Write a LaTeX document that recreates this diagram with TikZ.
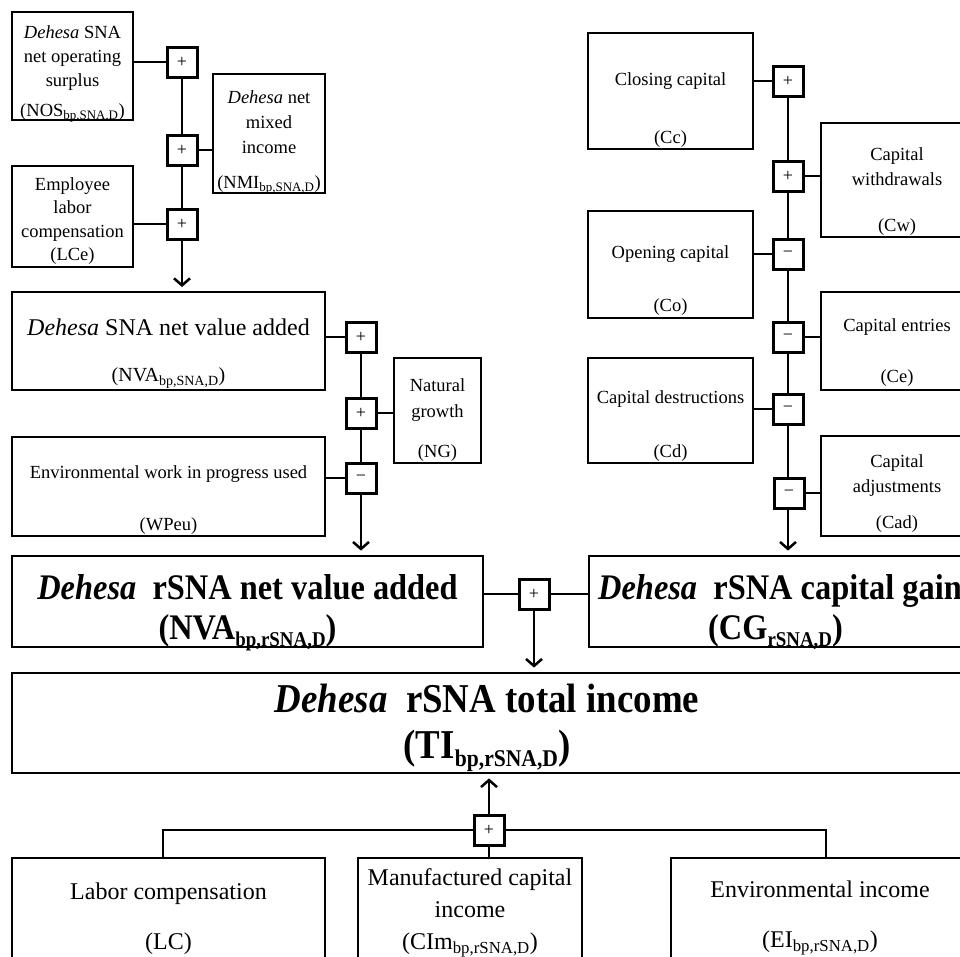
\documentclass[tikz,border=0pt]{standalone}
\usepackage{fontspec}
\setmainfont{Liberation Serif}
\newfontfamily\condfont[FakeStretch=0.9]{Liberation Serif}
\usetikzlibrary{arrows.meta}

\newcommand{\fs}[2]{\fontsize{#1}{#2}\selectfont}
\newcommand{\sbs}[1]{\textsubscript{#1}}
% lowered subscript with an explicit size, for the large bold titles
\newcommand{\bsbs}[2]{\raisebox{-0.2em}{\fontsize{#1}{#1}\selectfont #2}}

\begin{document}
\begin{tikzpicture}[x=1pt,y=-1pt,
  box/.style={draw, line width=2pt, rectangle, inner sep=0pt},
  bigbox/.style={draw, line width=2.8pt, rectangle, inner sep=0pt},
  opbox/.style={draw, fill=white, line width=3pt, minimum width=30pt, minimum height=30pt, inner sep=0pt, font=\fs{18}{20}},
  link/.style={line width=2.5pt},
  flow/.style={line width=2.5pt, -{Straight Barb[length=7pt,width=16pt]}, shorten >=4pt},
  lbl/.style={align=center, inner sep=0pt, font=\fs{18.5}{24}},
  midlbl/.style={align=center, inner sep=0pt, font=\fs{24}{32}},
  biglbl/.style={anchor=base, inner sep=0pt, font=\condfont\bfseries\fs{36}{40}},
  hugelbl/.style={anchor=base, inner sep=0pt, font=\condfont\bfseries\fs{41}{45}}
]
\useasboundingbox (0,0) rectangle (960,956);
\clip (0,0) rectangle (960,956);

% ---------- SNA net value added (upper left) ----------
\node[box, minimum width=121pt, minimum height=108pt] (nos) at (72.5,66) {};
\node[box, minimum width=112pt, minimum height=119pt] (nmi) at (269,133.5) {};
\node[box, minimum width=121pt, minimum height=101pt] (lce) at (72.5,216.5) {};
\node[lbl] (nosT) at (72.5,74) {\textit{Dehesa} SNA\\net operating\\surplus\\[6pt](NOS\sbs{bp,SNA,D})};
\node[lbl, font=\fs{18.5}{25}] (nmiT) at (269,142.5) {\textit{Dehesa} net\\mixed\\income\\[10pt](NMI\sbs{bp,SNA,D})};
\node[lbl, font=\fs{18.5}{23.5}] (lceT) at (72.5,221) {Employee\\labor\\compensation\\(LCe)};

\node[opbox] (p1) at (182,62) {+};
\node[opbox] (p2) at (182,150) {+};
\node[opbox] (p3) at (182,224) {+};

% ---------- rSNA net value added inputs ----------
\node[box, minimum width=313pt, minimum height=98pt] (nva) at (168.5,341) {};
\node[box, minimum width=87pt, minimum height=105pt] (ng) at (437.5,410.5) {};
\node[box, minimum width=313pt, minimum height=99pt] (wpeu) at (168.5,486.5) {};
\node[midlbl] (nvaT) at (168.5,327) {\textit{Dehesa} SNA net value added};
\node[lbl, font=\fs{20}{24}] (nvaS) at (168.5,378) {(NVA\sbs{bp,SNA,D})};
\node[lbl, font=\fs{18.5}{26}] (ngT) at (437.5,420) {Natural\\growth\\[14pt](NG)};
\node[lbl] (wpeuT) at (168.5,500) {Environmental work in progress used\\[28pt](WPeu)};

\node[opbox] (q1) at (361,337) {+};
\node[opbox] (q2) at (361,413) {+};
\node[opbox] (q3) at (361,478) {−};

% ---------- capital gain inputs (upper right) ----------
\node[box, minimum width=165pt, minimum height=116pt] (cc) at (670.5,91) {};
\node[box, minimum width=152pt, minimum height=114pt] (cw) at (897,180) {};
\node[box, minimum width=165pt, minimum height=107pt] (co) at (670.5,264.5) {};
\node[box, minimum width=152pt, minimum height=98pt] (ce) at (897,341) {};
\node[box, minimum width=165pt, minimum height=105pt] (cd) at (670.5,410.5) {};
\node[box, minimum width=152pt, minimum height=100pt] (cad) at (897,486) {};
\node[lbl] (ccT) at (670.5,110) {Closing capital\\[34pt](Cc)};
\node[lbl, font=\fs{18.5}{25}] (cwT) at (897,192) {Capital\\withdrawals\\[21pt](Cw)};
\node[lbl] (coT) at (670.5,280.5) {Opening capital\\[29pt](Co)};
\node[lbl] (ceT) at (897,352.5) {Capital entries\\[27pt](Ce)};
\node[lbl] (cdT) at (670.5,426) {Capital destructions\\[30pt](Cd)};
\node[lbl, font=\fs{18.5}{25}] (cadT) at (897,493.5) {Capital\\adjustments\\[11pt](Cad)};

\node[opbox] (c1) at (788,81) {+};
\node[opbox] (c2) at (788,176) {+};
\node[opbox] (c3) at (788,254) {−};
\node[opbox] (c4) at (788,337) {−};
\node[opbox] (c5) at (788,409) {−};
\node[opbox] (c6) at (789,493) {−};

% ---------- rSNA aggregates ----------
\node[bigbox, minimum width=471pt, minimum height=91pt] (rnva) at (247.5,601.5) {};
\node[bigbox, minimum width=373pt, minimum height=91pt] (cg) at (775.5,601.5) {};
\node[bigbox, minimum width=950pt, minimum height=100pt] (ti) at (487,723) {};
\node[biglbl] (rnvaT) at (247.5,599) {\textit{Dehesa}\ \ rSNA net value added};
\node[biglbl] (rnvaS) at (247.5,639) {(NVA\bsbs{21}{bp,rSNA,D})};
\node[biglbl, anchor=base west] (cgT) at (598,599) {\textit{Dehesa}\ \ rSNA capital gain};
\node[biglbl] (cgS) at (775.5,639) {(CG\bsbs{21}{rSNA,D})};
\node[hugelbl] (tiT) at (487,712) {\textit{Dehesa}\ \ rSNA total income};
\node[hugelbl] (tiS) at (487,758) {(TI\bsbs{24}{bp,rSNA,D})};

\node[opbox] (m1) at (534,594) {+};

% ---------- income components (bottom) ----------
\node[box, minimum width=313pt, minimum height=112pt] (lc) at (168.5,914) {};
\node[box, minimum width=224pt, minimum height=112pt] (cim) at (470,914) {};
\node[box, minimum width=298pt, minimum height=112pt] (ei) at (820,914) {};
\node[lbl, font=\fs{24}{32}] (lcT) at (168.5,919) {Labor compensation\\[18pt](LC)};
\node[lbl, font=\fs{24}{32}] (cimT) at (470,913) {Manufactured capital\\income\\(CIm\sbs{bp,rSNA,D})};
\node[lbl, font=\fs{24}{32}] (eiT) at (820,918) {Environmental income\\[18pt](EI\sbs{bp,rSNA,D})};

\node[opbox] (b1) at (489,830) {+};

% ---------- connectors ----------
\draw[link] (p1 -| nos.east) -- (p1.west);
\draw[link] (p2.east) -- (p2 -| nmi.west);
\draw[link] (p3 -| lce.east) -- (p3.west);
\draw[link] (p1.south) -- (p2.north);
\draw[link] (p2.south) -- (p3.north);
\draw[flow] (p3.south) -- (p3 |- nva.north);

\draw[link] (q1 -| nva.east) -- (q1.west);
\draw[link] (q2.east) -- (q2 -| ng.west);
\draw[link] (q3 -| wpeu.east) -- (q3.west);
\draw[link] (q1.south) -- (q2.north);
\draw[link] (q2.south) -- (q3.north);
\draw[flow] (q3.south) -- (q3 |- rnva.north);

\draw[link] (c1 -| cc.east) -- (c1.west);
\draw[link] (c2.east) -- (c2 -| cw.west);
\draw[link] (c3 -| co.east) -- (c3.west);
\draw[link] (c4.east) -- (c4 -| ce.west);
\draw[link] (c5 -| cd.east) -- (c5.west);
\draw[link] (c6.east) -- (c6 -| cad.west);
\draw[link] (c1.south) -- (c2.north);
\draw[link] (c2.south) -- (c3.north);
\draw[link] (c3.south) -- (c4.north);
\draw[link] (c4.south) -- (c5.north);
\draw[link] (c5.south) -- (c5 |- c6.north);
\draw[flow] (c6.south -| c5) -- (c5 |- cg.north);

\draw[link] (m1 -| rnva.east) -- (m1.west);
\draw[link] (m1.east) -- (m1 -| cg.west);
\draw[flow] (m1.south) -- (m1 |- ti.north);

\draw[flow] (b1.north) -- (b1 |- ti.south);
\draw[link] (b1.west) -| ([xshift=-5.5pt]lc.north);
\draw[link] (b1.east) -| ([xshift=6pt]ei.north);
\draw[link] (b1.south) -- (b1 |- cim.north);
\end{tikzpicture}
\end{document}
